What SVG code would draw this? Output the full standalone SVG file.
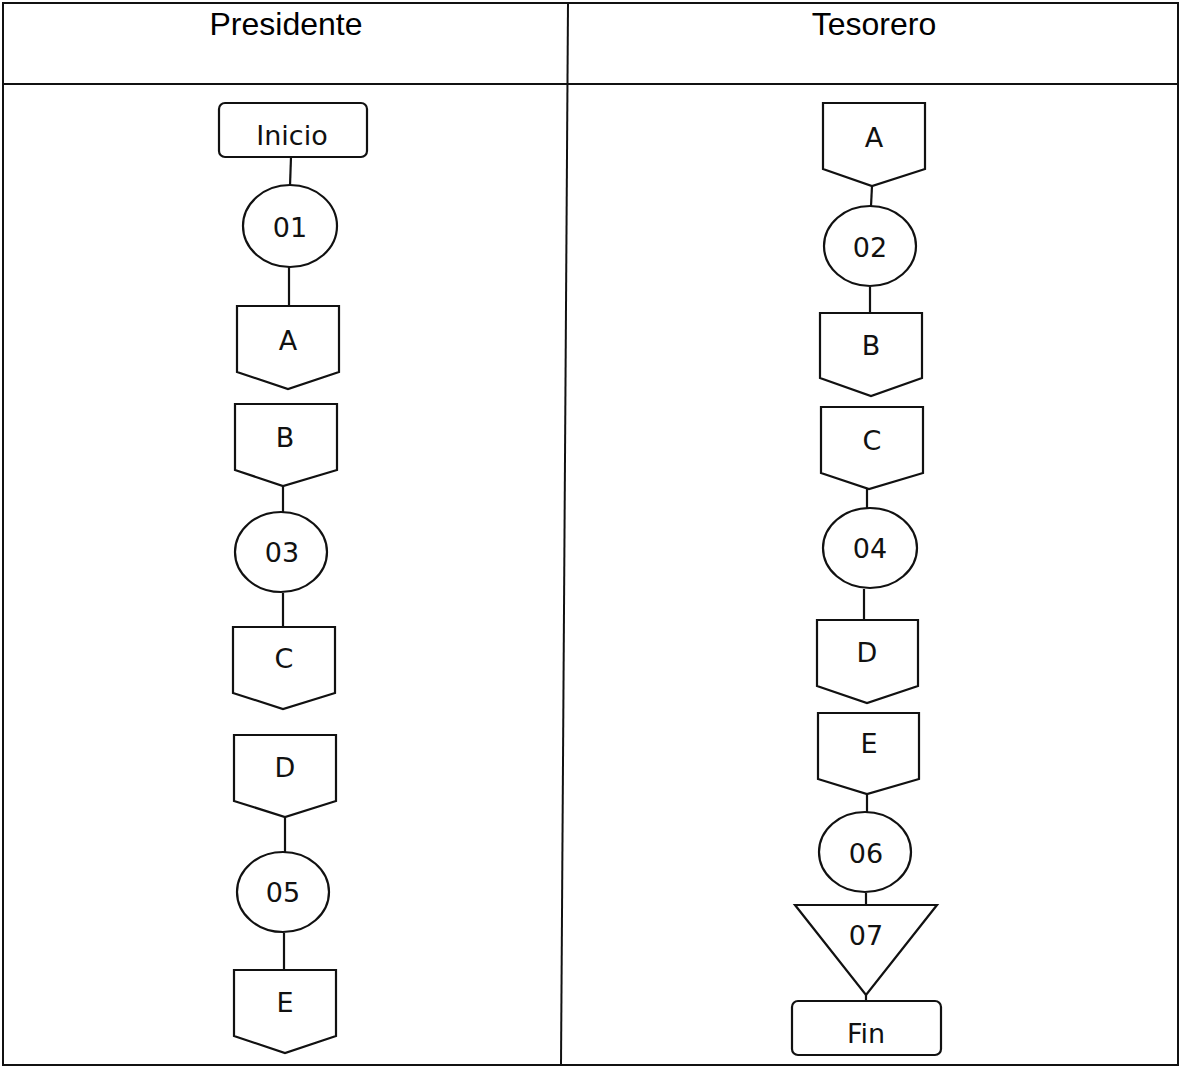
<svg xmlns="http://www.w3.org/2000/svg" width="1185" height="1068" viewBox="0 0 1185 1068">
<style>
.frame{fill:none;stroke:#111;stroke-width:2}
.shape{fill:#fff;stroke:#111;stroke-width:2.2;stroke-linejoin:miter}
.conn{stroke:#111;stroke-width:2.2;fill:none}
.hdr{font-family:"Liberation Sans",Arial,sans-serif;font-size:32px;fill:#000;text-anchor:middle}
.lbl{font-family:"DejaVu Sans",sans-serif;font-size:27px;fill:#111;text-anchor:middle}
</style>
<rect width="1185" height="1068" fill="#fff"/>
<g id="table">
<rect class="frame" x="3" y="3" width="1175" height="1062"/>
<line class="frame" x1="3" y1="84" x2="1178" y2="84"/>
<line class="frame" x1="568" y1="3" x2="561" y2="1065"/>
<text class="hdr" x="286" y="35">Presidente</text>
<text class="hdr" x="874" y="35">Tesorero</text>
</g>
<g id="connectors">
<line class="conn" x1="291" y1="157" x2="290" y2="186"/>
<line class="conn" x1="289" y1="267" x2="289" y2="306"/>
<line class="conn" x1="283" y1="486" x2="283" y2="512"/>
<line class="conn" x1="283" y1="593" x2="283" y2="627"/>
<line class="conn" x1="285" y1="817" x2="285" y2="852"/>
<line class="conn" x1="284" y1="933" x2="284" y2="970"/>
<line class="conn" x1="872" y1="186" x2="871" y2="206"/>
<line class="conn" x1="870" y1="287" x2="870" y2="313"/>
<line class="conn" x1="867" y1="489" x2="867" y2="508"/>
<line class="conn" x1="864" y1="589" x2="864" y2="620"/>
<line class="conn" x1="867" y1="794" x2="867" y2="812"/>
<line class="conn" x1="866" y1="893" x2="866" y2="905"/>
<line class="conn" x1="866" y1="995" x2="866" y2="1001"/>
</g>
<g id="p_inicio"><rect class="shape" x="219" y="103" width="148" height="54" rx="6"/><text class="lbl" x="292" y="145">Inicio</text></g>
<g id="p_01"><ellipse class="shape" cx="290" cy="226" rx="47" ry="41"/><text class="lbl" x="290" y="237">01</text></g>
<g id="p_A"><polygon class="shape" points="237,306 339,306 339,372 288,389 237,372"/><text class="lbl" x="288" y="350">A</text></g>
<g id="p_B"><polygon class="shape" points="235,404 337,404 337,470 283,486 235,470"/><text class="lbl" x="285" y="447">B</text></g>
<g id="p_03"><ellipse class="shape" cx="281" cy="552" rx="46" ry="40"/><text class="lbl" x="282" y="562">03</text></g>
<g id="p_C"><polygon class="shape" points="233,627 335,627 335,693 283,709 233,693"/><text class="lbl" x="284" y="668">C</text></g>
<g id="p_D"><polygon class="shape" points="234,735 336,735 336,801 285,817 234,801"/><text class="lbl" x="285" y="777">D</text></g>
<g id="p_05"><ellipse class="shape" cx="283" cy="892" rx="46" ry="40"/><text class="lbl" x="283" y="902">05</text></g>
<g id="p_E"><polygon class="shape" points="234,970 336,970 336,1036 285,1053 234,1036"/><text class="lbl" x="285" y="1012">E</text></g>
<g id="t_A"><polygon class="shape" points="823,103 925,103 925,169 872,186 823,169"/><text class="lbl" x="874" y="147">A</text></g>
<g id="t_02"><ellipse class="shape" cx="870" cy="246" rx="46" ry="40"/><text class="lbl" x="870" y="257">02</text></g>
<g id="t_B"><polygon class="shape" points="820,313 922,313 922,378 871,396 820,378"/><text class="lbl" x="871" y="355">B</text></g>
<g id="t_C"><polygon class="shape" points="821,407 923,407 923,473 869,489 821,473"/><text class="lbl" x="872" y="450">C</text></g>
<g id="t_04"><ellipse class="shape" cx="870" cy="548" rx="47" ry="40"/><text class="lbl" x="870" y="558">04</text></g>
<g id="t_D"><polygon class="shape" points="817,620 918,620 918,686 867,703 817,686"/><text class="lbl" x="867" y="662">D</text></g>
<g id="t_E"><polygon class="shape" points="818,713 919,713 919,779 867,794 818,779"/><text class="lbl" x="869" y="753">E</text></g>
<g id="t_06"><ellipse class="shape" cx="865" cy="852" rx="46" ry="40"/><text class="lbl" x="866" y="863">06</text></g>
<g id="t_07"><polygon class="shape" points="795,905 937,905 866,995"/><text class="lbl" x="866" y="945">07</text></g>
<g id="t_fin"><rect class="shape" x="792" y="1001" width="149" height="54" rx="6"/><text class="lbl" x="866" y="1043">Fin</text></g>
</svg>
